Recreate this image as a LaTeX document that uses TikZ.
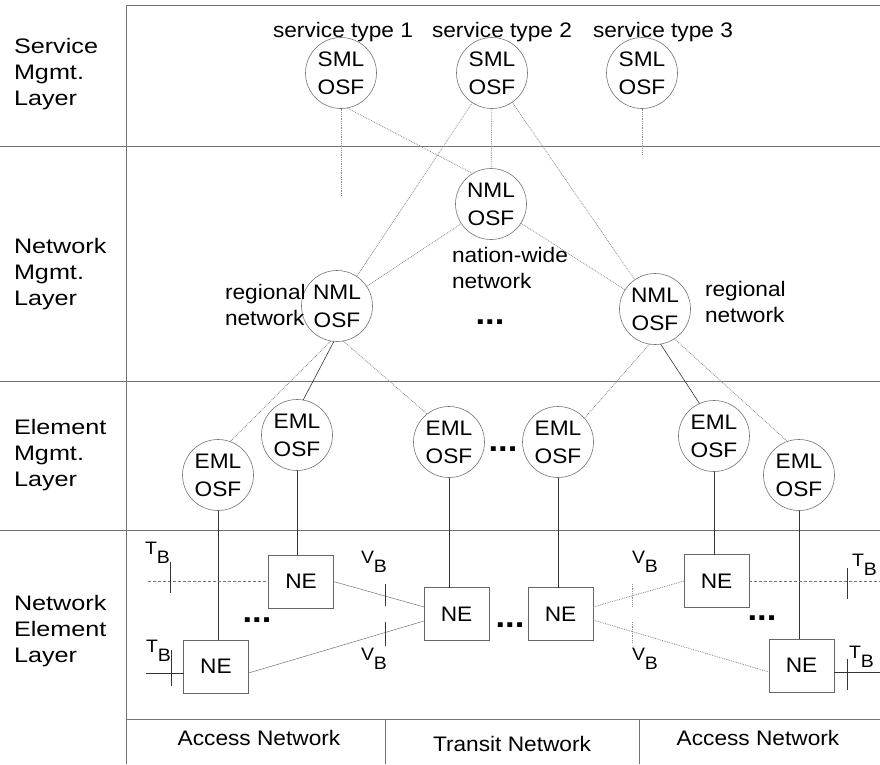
\documentclass[tikz,border=0pt]{standalone}
\usepackage{fontspec}
\setmainfont[FakeStretch=1.08]{Liberation Sans}
\newfontfamily\layerfont[FakeStretch=1.2]{Liberation Sans}
\usetikzlibrary{calc}
\newcommand{\tbsym}{T\raisebox{-9pt}{B}}
\newcommand{\vbsym}{V\raisebox{-9pt}{B}}
\begin{document}
\begin{tikzpicture}[x=1pt,y=-1pt,
  every node/.style={inner sep=0pt, outer sep=0pt},
  lbl/.style={font=\fontsize{21}{26}\selectfont, align=left},
  layerlbl/.style={font=\layerfont\fontsize{21}{26}\selectfont, align=left},
  txt/.style={font=\fontsize{21}{26}\selectfont},
  osf/.style={circle, draw=black!55, line width=0.6pt, minimum size=71pt, align=center, font=\fontsize{21}{28}\selectfont},
  nebox/.style={rectangle, draw=black!60, line width=0.6pt, minimum width=65pt, minimum height=53pt, font=\fontsize{21}{26}\selectfont},
  sep/.style={draw=black!55, line width=0.6pt},
  dotline/.style={draw=black!45, line width=0.8pt, densely dotted},
  solidline/.style={draw=black!80, line width=0.6pt},
  thinline/.style={draw=black!55, line width=0.5pt},
  dashline/.style={draw=black!55, line width=0.6pt, densely dashed},
  tick/.style={draw=black!80, line width=0.6pt},
  sub/.style={font=\fontsize{18}{18}\selectfont, anchor=base west},
  dots/.style={font=\fontsize{32}{32}\selectfont\bfseries},
]
\fill[white] (0,0) rectangle (880,764);
\useasboundingbox (0,0) rectangle (880,764);

% frame and layer separators
\draw[sep] (126,764) -- (126,5) -- (880,5);
\draw[sep] (0,146) -- (880,146);
\draw[sep] (0,381) -- (880,381);
\draw[sep] (0,530) -- (880,530);
\draw[sep] (126,719) -- (880,719);
\draw[sep] (385,719) -- (385,764);
\draw[sep] (639,719) -- (639,764);

% layer labels
\node[layerlbl, anchor=west] (l1) at (14,74) {Service\\Mgmt.\\Layer};
\node[layerlbl, anchor=west] (l2) at (14,274) {Network\\Mgmt.\\Layer};
\node[layerlbl, anchor=west] (l3) at (14,455) {Element\\Mgmt.\\Layer};
\node[layerlbl, anchor=west] (l4) at (14,631) {Network\\Element\\Layer};

% service layer
\node[txt, anchor=base] (st1) at (343,37) {service type 1};
\node[txt, anchor=base] (st2) at (502,37) {service type 2};
\node[txt, anchor=base] (st3) at (663,37) {service type 3};
\node[osf] (sml1) at (341,73) {SML\\OSF};
\node[osf] (sml2) at (492,73) {SML\\OSF};
\node[osf] (sml3) at (642,73) {SML\\OSF};

% network layer
\node[osf] (nmlt) at (491,204) {NML\\OSF};
\node[osf] (nmll) at (337,306) {NML\\OSF};
\node[osf] (nmlr) at (655,309) {NML\\OSF};
\node[lbl, anchor=west] (nw) at (452,268) {nation-wide\\network};
\node[lbl, anchor=west] (rgl) at (225,305) {regional\\network};
\node[lbl, anchor=west] (rgr) at (705,302) {regional\\network};
\node[dots] (d1) at (490,322) {...};

% element layer
\node[osf] (eml1) at (218,475) {EML\\OSF};
\node[osf] (eml2) at (297,435) {EML\\OSF};
\node[osf] (eml3) at (449,442) {EML\\OSF};
\node[osf] (eml4) at (558,442) {EML\\OSF};
\node[osf] (eml5) at (714,436) {EML\\OSF};
\node[osf] (eml6) at (799,475) {EML\\OSF};
\node[dots] (d2) at (503,449) {...};

% network elements
\node[nebox] (nea) at (301,581.5) {NE};
\node[nebox] (neb) at (216,666.5) {NE};
\node[nebox] (nec) at (456.5,614) {NE};
\node[nebox] (ned) at (560.5,614) {NE};
\node[nebox] (nee) at (716.5,581) {NE};
\node[nebox] (nef) at (801.5,665.5) {NE};
\node[dots] (d3) at (257,620) {...};
\node[dots] (d4) at (510,625) {...};
\node[dots] (d5) at (762,618) {...};

% SML -> NML
\coordinate (sml1end) at (341,195);
\coordinate (sml3end) at (642,155);
\draw[dotline] (sml1.south) -- (sml1end);
\draw[dotline] (sml1.-80) -- (nmlt.121);
\draw[dotline] (sml2) -- (nmlt);
\draw[dotline] (sml2) -- (nmll);
\draw[dotline] (sml2) -- (nmlr);
\draw[dotline] (sml3.south) -- (sml3end);
\draw[dotline] (nmlt) -- (nmll);
\draw[dotline] (nmlt) -- (nmlr);

% NML -> EML
\draw[dotline] (nmll.-100) -- (eml1.70);
\draw[solidline] (nmll.-95) -- (eml2.80);
\draw[dotline] (nmll.-80) -- (eml3.128);
\draw[dotline] (nmlr.-99) -- (eml4.42);
\draw[solidline] (nmlr.-81) -- (eml5.114);
\draw[dotline] (nmlr.-57) -- (eml6.109);

% EML -> NE
\draw[solidline] (eml1.south) -- (eml1.south |- neb.north);
\draw[solidline] (eml2.south) -- (eml2.south |- nea.north);
\draw[solidline] (eml3.south) -- (eml3.south |- nec.north);
\draw[solidline] (eml4.south) -- (eml4.south |- ned.north);
\draw[solidline] (eml5.south) -- (eml5.south |- nee.north);
\draw[solidline] (eml6.south) -- (eml6.south |- nef.north);

% T_B reference points
\coordinate (ta) at (148,581.5);
\coordinate (tb) at (146,673);
\coordinate (te) at (880,581);
\coordinate (tf) at (880,672);
\draw[dashline] (ta) -- (nea.west);
\draw[solidline] (tb) -- ([yshift=-6.5pt]neb.west);
\draw[dashline] (nee.east) -- (te);
\draw[solidline] ([yshift=-6.5pt]nef.east) -- (tf);
\draw[tick] (170,562) -- (170,593);
\draw[tick] (171,650) -- (171,686);
\draw[tick] (847,568) -- (847,599);
\draw[tick] (847,659) -- (847,690);
\node[sub] (tb1) at (145,554) {\tbsym};
\node[sub] (tb2) at (146,652) {\tbsym};
\node[sub] (tb3) at (852,566) {\tbsym};
\node[sub] (tb4) at (849,658) {\tbsym};

% V_B reference points
\draw[thinline] (nea.east) -- ([yshift=7pt]nec.west);
\draw[thinline] ([yshift=-6.5pt]neb.east) -- ([yshift=-7pt]nec.west);
\draw[dotline] ([yshift=7pt]ned.east) -- (nee.west);
\draw[dotline] ([yshift=-6pt]ned.east) -- ([yshift=-6.5pt]nef.west);
\draw[tick] (385,584) -- (385,606);
\draw[tick] (385,622) -- (385,646);
\draw[dotline] (632,584) -- (632,606);
\draw[dotline] (632,622) -- (632,642);
\node[sub] (vb1) at (361,563) {\vbsym};
\node[sub] (vb2) at (361,660) {\vbsym};
\node[sub] (vb3) at (632,563) {\vbsym};
\node[sub] (vb4) at (632,660) {\vbsym};

% bottom labels
\node[txt, anchor=base] (acc1) at (259,745) {Access Network};
\node[txt, anchor=base] (tra) at (512,751) {Transit Network};
\node[txt, anchor=base] (acc2) at (758,745) {Access Network};
\end{tikzpicture}
\end{document}
